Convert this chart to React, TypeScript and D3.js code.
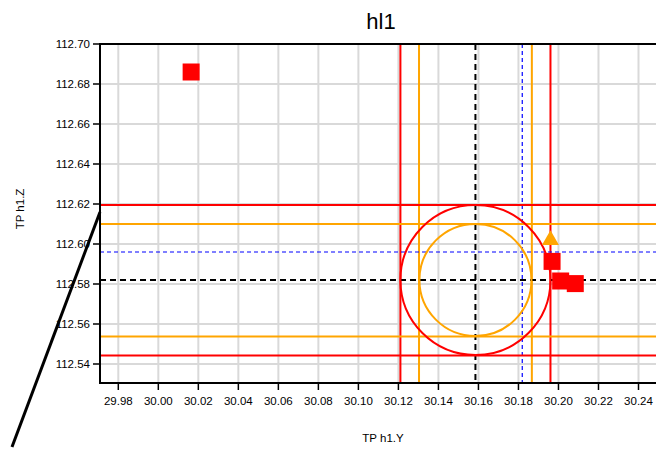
import * as d3 from "d3";

const W = 656;
const H = 449;

// axis ticks
const xTicks = [29.98, 30.0, 30.02, 30.04, 30.06, 30.08, 30.1, 30.12, 30.14, 30.16, 30.18, 30.2, 30.22, 30.24];
const yTicks = [112.54, 112.56, 112.58, 112.6, 112.62, 112.64, 112.66, 112.68, 112.7];

// reference lines
const vLines = [
  { x: 30.121, color: "red", dash: null, w: 2 },
  { x: 30.1303, color: "orange", dash: null, w: 2 },
  { x: 30.1585, color: "black", dash: "6,4", w: 2 },
  { x: 30.1819, color: "blue", dash: "4,3", w: 1.2 },
  { x: 30.1867, color: "orange", dash: null, w: 2 },
  { x: 30.196, color: "red", dash: null, w: 2 },
];
const hLines = [
  { y: 112.6195, color: "red", dash: null, w: 2 },
  { y: 112.61, color: "orange", dash: null, w: 2 },
  { y: 112.596, color: "blue", dash: "4,3", w: 1.2 },
  { y: 112.582, color: "black", dash: "6,4", w: 2 },
  { y: 112.5538, color: "orange", dash: null, w: 2 },
  { y: 112.5443, color: "red", dash: null, w: 2 },
];

// circles around the nominal point
const center = { x: 30.1585, y: 112.582 };
const circles = [
  { r: 0.0375, color: "red" },
  { r: 0.028, color: "orange" },
];

// measured points
const squares = [
  { x: 30.0164, y: 112.686 },
  { x: 30.1968, y: 112.5913 },
  { x: 30.2011, y: 112.5815 },
  { x: 30.2084, y: 112.5802 },
];
const triangles = [{ x: 30.196, y: 112.602 }];

export default function App() {
  const left = 100, top = 44, bottom = 383, right = W;
  const x = d3.scaleLinear().domain([29.98, 30.24]).range([118.3, 638.5]);
  const y = d3.scaleLinear().domain([112.54, 112.7]).range([364, 44]);
  const tri = d3.symbol().type(d3.symbolTriangle).size(125)();

  return (
    <svg width={W} height={H} style={{ position: "absolute", left: 0, top: 0 }} fontFamily="Liberation Sans, Arial, sans-serif">
      <defs>
        <clipPath id="plot">
          <rect x={left} y={top} width={right - left} height={bottom - top} />
        </clipPath>
      </defs>
      <rect width={W} height={H} fill="white" />
      <text x={381} y={29} textAnchor="middle" fontSize={22}>hl1</text>

      <g clipPath="url(#plot)">
        {xTicks.map((t) => (
          <line key={`gx${t}`} x1={x(t)} x2={x(t)} y1={top} y2={bottom} stroke="#d9d9d9" strokeWidth={2} />
        ))}
        {yTicks.map((t) => (
          <line key={`gy${t}`} x1={left} x2={right} y1={y(t)} y2={y(t)} stroke="#d9d9d9" strokeWidth={2} />
        ))}
        {vLines.map((l, i) => (
          <line key={`v${i}`} x1={x(l.x)} x2={x(l.x)} y1={top} y2={bottom} stroke={l.color} strokeWidth={l.w} strokeDasharray={l.dash || undefined} />
        ))}
        {hLines.map((l, i) => (
          <line key={`h${i}`} x1={left} x2={right} y1={y(l.y)} y2={y(l.y)} stroke={l.color} strokeWidth={l.w} strokeDasharray={l.dash || undefined} />
        ))}
        {circles.map((c, i) => (
          <circle key={`c${i}`} cx={x(center.x)} cy={y(center.y)} r={x(center.x + c.r) - x(center.x)} fill="none" stroke={c.color} strokeWidth={2} />
        ))}
        {triangles.map((p, i) => (
          <path key={`t${i}`} d={tri} transform={`translate(${x(p.x)},${y(p.y)})`} fill="orange" />
        ))}
        {squares.map((p, i) => (
          <rect key={`s${i}`} x={x(p.x) - 8.5} y={y(p.y) - 8.5} width={17} height={17} fill="red" />
        ))}
      </g>

      <line x1={left} x2={right} y1={top} y2={top} stroke="black" strokeWidth={2} />
      <line x1={left} x2={left} y1={top - 1} y2={bottom + 1} stroke="black" strokeWidth={2} />
      <line x1={left} x2={right} y1={bottom} y2={bottom} stroke="black" strokeWidth={2} />

      {yTicks.map((t) => (
        <g key={`ty${t}`}>
          <line x1={left - 7} x2={left} y1={y(t)} y2={y(t)} stroke="black" strokeWidth={1.5} />
          <text x={left - 10} y={y(t)} dy="0.35em" textAnchor="end" fontSize={11.5}>{t.toFixed(2)}</text>
        </g>
      ))}
      {xTicks.map((t) => (
        <g key={`tx${t}`}>
          <line x1={x(t)} x2={x(t)} y1={bottom} y2={bottom + 7} stroke="black" strokeWidth={1.5} />
          <text x={x(t)} y={bottom + 22} textAnchor="middle" fontSize={11.5}>{t.toFixed(2)}</text>
        </g>
      ))}

      <line x1={100} y1={212} x2={12} y2={447} stroke="black" strokeWidth={3} />

      <text x={383} y={442} textAnchor="middle" fontSize={11.5}>TP h1.Y</text>
      <text transform="translate(24,209) rotate(-90)" textAnchor="middle" fontSize={11.5}>TP h1.Z</text>
    </svg>
  );
}
